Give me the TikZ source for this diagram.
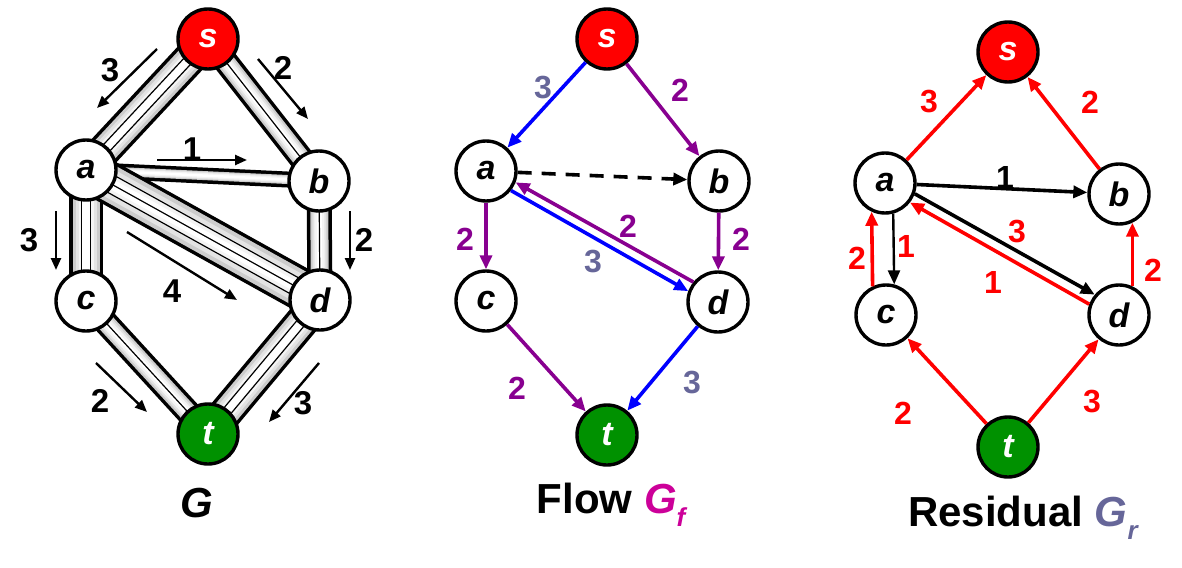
\documentclass[tikz,border=0pt]{standalone}
\usepackage{fontspec}
\setmainfont{Liberation Sans}
\usetikzlibrary{arrows.meta,calc,backgrounds}

\definecolor{flowpurple}{RGB}{136,0,144}
\definecolor{flowblue}{RGB}{0,0,255}
\definecolor{capgray}{RGB}{102,102,153}
\definecolor{srcred}{RGB}{255,0,0}
\definecolor{sinkgreen}{RGB}{0,145,0}
\definecolor{gfmag}{RGB}{204,0,153}

\tikzset{
  vert/.style={circle, draw, line width=1.7pt, fill=white, minimum size=30pt, inner sep=0pt,
    font=\fontsize{17}{17}\selectfont\bfseries\itshape},
  src/.style={vert, fill=srcred, text=white},
  sink/.style={vert, fill=sinkgreen, text=white},
  caplab/.style={font=\fontsize{16.5}{16.5}\selectfont\bfseries},
  lab/.style={font=\fontsize{16}{16}\selectfont\bfseries},
  title/.style={font=\fontsize{21}{21}\selectfont\bfseries},
  capar/.style={line width=1.2pt, -{Triangle[length=6pt,width=5pt]}},
  farr/.style={line width=1.8pt, -{Triangle[length=7pt,width=6pt]}},
}

% pipe of #3 strips between the centres of #1 and #2
\newcommand{\pipe}[3]{%
  \draw[line width={(9*#3+7)*0.5pt}] (#1.center) -- (#2.center);
  \draw[line width={9*#3*0.5pt}, gray!40] (#1.center) -- (#2.center);
  \draw[line width={7*#3*0.5pt}, gray!22] (#1.center) -- (#2.center);
  \draw[line width={5*#3*0.5pt}, gray!9] (#1.center) -- (#2.center);
  \draw[line width={2.5*#3*0.5pt}, white] (#1.center) -- (#2.center);
  \ifnum#3>1
    \foreach \i in {2,...,#3}{
      \pgfmathsetmacro\off{(\i-1-#3/2)*4.5}
      \draw[line width=0.6pt] ($(#1)!\off pt!90:(#2)$) -- ($(#2)!\off pt!-90:(#1)$);
    }
  \fi
}

\begin{document}
\begin{tikzpicture}[x=0.5pt, y=-0.5pt]
\useasboundingbox (0,0) rectangle (1182,567);

% ---- G
\node[src]  (gs) at (208,39)  {s};
\node[vert] (ga) at (86,170)  {a};
\node[vert] (gb) at (319,181) {b};
\node[vert] (gc) at (86,301)  {c};
\node[vert] (gd) at (320,300) {d};
\node[sink] (gt) at (208,434) {t};
\node[title] (gl) at (197,503) {\itshape G};

\begin{scope}[on background layer]
  \pipe{gs}{ga}{3}
  \pipe{gs}{gb}{2}
  \pipe{ga}{gb}{1}
  \pipe{ga}{gc}{3}
  \pipe{gb}{gd}{2}
  \pipe{ga}{gd}{4}
  \pipe{gc}{gt}{2}
  \pipe{gd}{gt}{3}
\end{scope}

\foreach \n/\p/\q/\v/\l in {sa/{157,49}/{97,108}/3/{110,70},
    sb/{258,59}/{308,119}/2/{283,68},
    ab/{157,160}/{247,160}/1/{192,149},
    ac/{56,211}/{56,270}/3/{29,240},
    bd/{350,211}/{350,270}/2/{364,240},
    ad/{127,232}/{237,300}/4/{172,291},
    ct/{96,363}/{147,412}/2/{100,401},
    dt/{319,363}/{269,422}/3/{303,403}}{
  \coordinate (\n1) at (\p);
  \coordinate (\n2) at (\q);
  \draw[capar] (\n1) -- (\n2);
  \node[caplab] at (\l) {\v};
}

% ---- Flow
\node[src]  (fs) at (607,39)  {s};
\node[vert] (fa) at (486,171) {a};
\node[vert] (fb) at (719,181) {b};
\node[vert] (fc) at (486,301) {c};
\node[vert] (fd) at (718,302) {d};
\node[sink] (ft) at (607,435) {t};
\node[title] (fl) at (611,505) {Flow \textcolor{gfmag}{\itshape G\raisebox{-0.3em}{\fontsize{13}{13}\selectfont f}}};

\draw[farr, flowblue]   (fs) -- (fa);
\draw[farr, flowpurple] (fs) -- (fb);
\draw[farr, dashed, dash pattern=on 7pt off 5pt] (fa) -- (fb);
\draw[farr, flowpurple] (fa) -- (fc);
\draw[farr, flowpurple] (fb) -- (fd);
\draw[farr, flowblue]   (fa.-38) -- (fd.160);
\draw[farr, flowpurple] (fd.141) -- (fa.-21);
\draw[farr, flowpurple] (fc) -- (ft);
\draw[farr, flowblue]   (fd) -- (ft);

\node[lab, capgray]    at (543,88)  {3};
\node[lab, flowpurple] at (680,90)  {2};
\node[lab, flowpurple] at (465,239) {2};
\node[lab, flowpurple] at (741,239) {2};
\node[lab, flowpurple] at (628,226) {2};
\node[lab, capgray]    at (593,262) {3};
\node[lab, flowpurple] at (517,388) {2};
\node[lab, capgray]    at (692,383) {3};

% ---- Residual
\node[src]  (rs) at (1008,52)  {s};
\node[vert] (ra) at (885,183)  {a};
\node[vert] (rb) at (1119,194) {b};
\node[vert] (rc) at (886,315)  {c};
\node[vert] (rd) at (1119,315) {d};
\node[sink] (rt) at (1008,447) {t};
\node[title] (rl) at (1023,518) {Residual \textcolor{capgray}{\itshape G\raisebox{-0.3em}{\fontsize{13}{13}\selectfont r}}};

\draw[farr, srcred] (ra) -- (rs);
\draw[farr, srcred] (rb) -- (rs);
\draw[farr] (ra) -- (rb);
\draw[farr, line width=1.2pt] (ra.-75) -- (rc.75);
\draw[farr, srcred] (rc.115) -- (ra.-115);
\draw[farr] (ra.-20) -- (rd.140);
\draw[farr, srcred] (rd.160) -- (ra.-38);
\draw[farr, srcred] (rd.65) -- (rb.-65);
\draw[farr, srcred] (rt) -- (rc);
\draw[farr, srcred] (rt) -- (rd);

\node[lab, srcred] at (929,102)  {3};
\node[lab, srcred] at (1090,102) {2};
\node[lab]         at (1005,177) {1};
\node[lab, srcred] at (906,246)  {1};
\node[lab, srcred] at (857,258)  {2};
\node[lab, srcred] at (1017,232) {3};
\node[lab, srcred] at (993,282)  {1};
\node[lab, srcred] at (1153,270) {2};
\node[lab, srcred] at (903,413)  {2};
\node[lab, srcred] at (1092,402) {3};
\end{tikzpicture}
\end{document}
